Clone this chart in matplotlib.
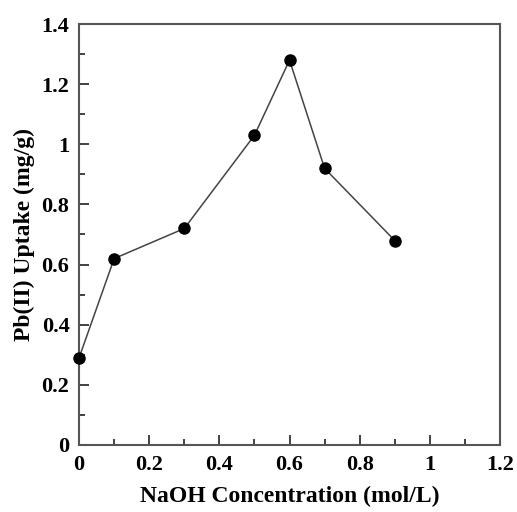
import numpy as np
import matplotlib
matplotlib.use('Agg')
import matplotlib.pyplot as plt
from matplotlib.ticker import MultipleLocator, FormatStrFormatter

plt.rcParams['font.family'] = ['Liberation Serif', 'DejaVu Serif']
plt.rcParams['font.weight'] = 'bold'

# NaOH concentration vs Pb(II) uptake
naoh = [0, 0.1, 0.3, 0.5, 0.6, 0.7, 0.9]
uptake = [0.29, 0.62, 0.72, 1.03, 1.28, 0.92, 0.68]


def fmt(v, pos):
    s = ('%.1f' % v).rstrip('0').rstrip('.')
    return s


fig = plt.figure(figsize=(5.17, 5.12), dpi=100)
ax = fig.add_axes([0.153, 0.131, 0.814, 0.822])
ax.plot(naoh, uptake, '-', color='#444444', lw=1.1, zorder=2)
ax.plot(naoh, uptake, 'o', color='black', markersize=8, zorder=3, clip_on=False)

ax.set_xlim(0, 1.2)
ax.set_ylim(0, 1.4)
ax.xaxis.set_major_locator(MultipleLocator(0.2))
ax.xaxis.set_minor_locator(MultipleLocator(0.1))
ax.yaxis.set_major_locator(MultipleLocator(0.2))
ax.yaxis.set_minor_locator(MultipleLocator(0.1))
ax.xaxis.set_major_formatter(plt.FuncFormatter(fmt))
ax.yaxis.set_major_formatter(plt.FuncFormatter(fmt))
ax.tick_params(which='both', direction='in', top=False, right=False,
               width=1.3, color='#333333', labelsize=16, pad=7)
ax.tick_params(which='major', length=7)
ax.tick_params(which='minor', length=4)
for sp in ax.spines.values():
    sp.set_color('#555555')
    sp.set_linewidth(1.5)

ax.set_xlabel('NaOH Concentration (mol/L)', fontsize=17, fontweight='bold', labelpad=8)
ax.set_ylabel('Pb(II) Uptake (mg/g)', fontsize=17, fontweight='bold', labelpad=5)

fig.savefig('out.png', dpi=100)
